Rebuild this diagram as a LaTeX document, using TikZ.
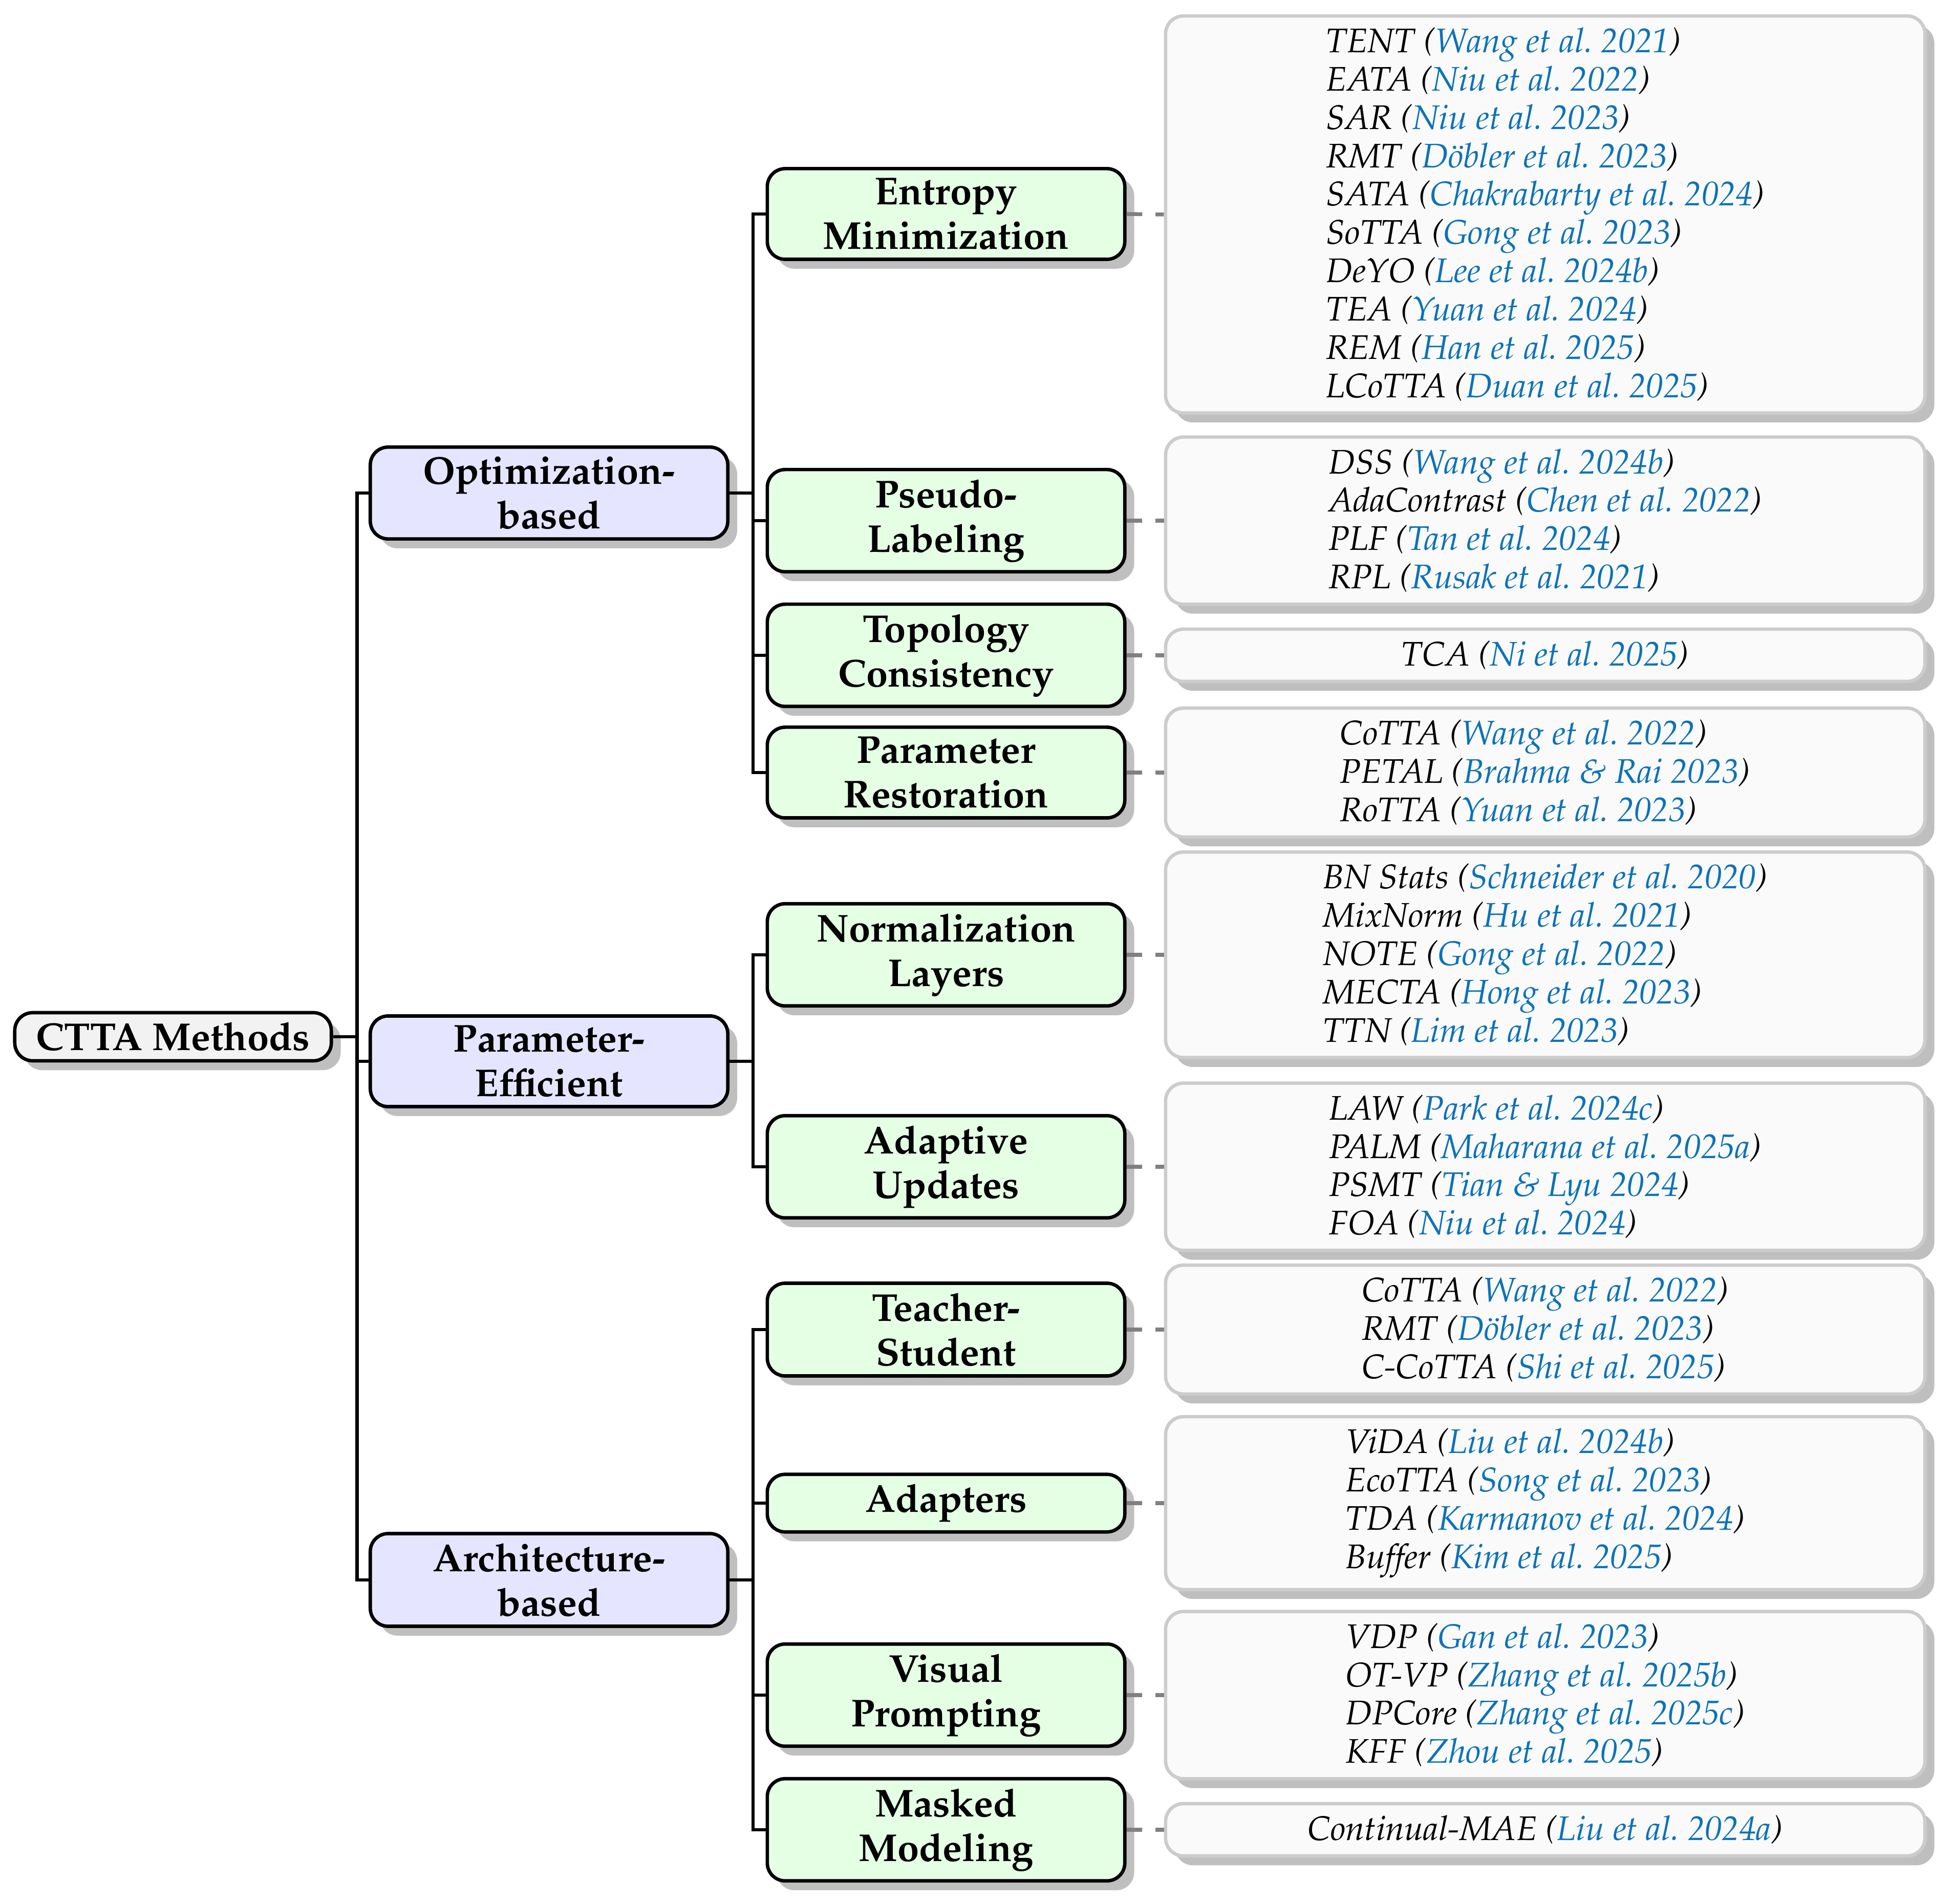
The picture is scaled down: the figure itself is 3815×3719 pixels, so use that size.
\documentclass[tikz,border=0pt]{standalone}
\usepackage[T1]{fontenc}
\renewcommand{\rmdefault}{ppl}
\usetikzlibrary{shadows}
\definecolor{citeblue}{RGB}{12,114,184}
\newcommand{\cc}[1]{\textcolor{citeblue}{#1}}
\begin{document}
\begin{tikzpicture}[x=0.12pt,y=-0.12pt,
  basebox/.style={rounded corners=4.2pt, line width=0.8pt,
    drop shadow={shadow xshift=2.2pt,shadow yshift=-2.2pt}},
  boldfont/.style={font=\fontsize{9.1}{10.45}\selectfont\bfseries},
  rootbox/.style={basebox, boldfont, draw=black, fill=black!5,
    minimum width=74.2pt, inner xsep=0pt, inner ysep=2.3pt},
  catbox/.style={basebox, boldfont, draw=black, fill=blue!10, align=center,
    minimum width=83.8pt, inner xsep=0pt, inner ysep=2.3pt},
  subbox/.style={basebox, boldfont, draw=black, fill=green!10, align=center,
    minimum width=83.8pt, inner xsep=0pt, inner ysep=2.3pt},
  leafbox/.style={basebox, draw=black!20, fill=black!2, align=left,
    font=\fontsize{8}{8.98}\selectfont\itshape,
    minimum width=178pt, inner xsep=0pt, inner ysep=2.8pt},
  conn/.style={line width=0.8pt, black},
  dconn/.style={line width=0.9pt, black!50, dash pattern=on 3.7pt off 3.1pt}
]
\useasboundingbox (0,0) rectangle (3815,3719);

% root
\node[rootbox] (root) at (338,2025) {CTTA Methods};

% level 1
\node[catbox] (opt) at (1072.5,963) {Optimization-\\based};
\node[catbox] (par) at (1072.5,2073) {Parameter-\\Efficient};
\node[catbox] (arc) at (1072.5,3086) {Architecture-\\based};

% level 2
\node[subbox] (ent) at (1848,418) {Entropy\\Minimization};
\node[subbox] (pse) at (1848,1017) {Pseudo-\\Labeling};
\node[subbox] (top) at (1848,1280) {Topology\\Consistency};
\node[subbox] (res) at (1848,1509) {Parameter\\Restoration};
\node[subbox] (nor) at (1848,1865) {Normalization\\Layers};
\node[subbox] (ada) at (1848,2279) {Adaptive\\Updates};
\node[subbox] (tea) at (1848,2597) {Teacher-\\Student};
\node[subbox] (adp) at (1848,2936) {Adapters};
\node[subbox] (vis) at (1848,3311) {Visual\\Prompting};
\node[subbox] (mas) at (1848,3574) {Masked\\Modeling};

% leaves
\node[leafbox] (lent) at (3018.5,419) {TENT (\cc{Wang et al.\ 2021})\\
EATA (\cc{Niu et al.\ 2022})\\
SAR (\cc{Niu et al.\ 2023})\\
RMT (\cc{D\"obler et al.\ 2023})\\
SATA (\cc{Chakrabarty et al.\ 2024})\\
SoTTA (\cc{Gong et al.\ 2023})\\
DeYO (\cc{Lee et al.\ 2024b})\\
TEA (\cc{Yuan et al.\ 2024})\\
REM (\cc{Han et al.\ 2025})\\
LCoTTA (\cc{Duan et al.\ 2025})};
\node[leafbox] (lpse) at (3018.5,1017) {DSS (\cc{Wang et al.\ 2024b})\\
AdaContrast (\cc{Chen et al.\ 2022})\\
PLF (\cc{Tan et al.\ 2024})\\
RPL (\cc{Rusak et al.\ 2021})};
\node[leafbox] (ltop) at (3018.5,1280) {TCA (\cc{Ni et al.\ 2025})};
\node[leafbox] (lres) at (3018.5,1509) {CoTTA (\cc{Wang et al.\ 2022})\\
PETAL (\cc{Brahma \& Rai 2023})\\
RoTTA (\cc{Yuan et al.\ 2023})};
\node[leafbox] (lnor) at (3018.5,1865) {BN Stats (\cc{Schneider et al.\ 2020})\\
MixNorm (\cc{Hu et al.\ 2021})\\
NOTE (\cc{Gong et al.\ 2022})\\
MECTA (\cc{Hong et al.\ 2023})\\
TTN (\cc{Lim et al.\ 2023})};
\node[leafbox] (lada) at (3018.5,2279) {LAW (\cc{Park et al.\ 2024c})\\
PALM (\cc{Maharana et al.\ 2025a})\\
PSMT (\cc{Tian \& Lyu 2024})\\
FOA (\cc{Niu et al.\ 2024})};
\node[leafbox] (ltea) at (3018.5,2597) {CoTTA (\cc{Wang et al.\ 2022})\\
RMT (\cc{D\"obler et al.\ 2023})\\
C-CoTTA (\cc{Shi et al.\ 2025})};
\node[leafbox] (ladp) at (3018.5,2936) {ViDA (\cc{Liu et al.\ 2024b})\\
EcoTTA (\cc{Song et al.\ 2023})\\
TDA (\cc{Karmanov et al.\ 2024})\\
Buffer (\cc{Kim et al.\ 2025})};
\node[leafbox] (lvis) at (3018.5,3311) {VDP (\cc{Gan et al.\ 2023})\\
OT-VP (\cc{Zhang et al.\ 2025b})\\
DPCore (\cc{Zhang et al.\ 2025c})\\
KFF (\cc{Zhou et al.\ 2025})};
\node[leafbox] (lmas) at (3018.5,3574) {Continual-MAE (\cc{Liu et al.\ 2024a})};

% tree connectors
\foreach \c in {opt,par,arc}
  \draw[conn] (root.east) -- ++(47,0) |- (\c.west);
\foreach \c in {ent,pse,top,res}
  \draw[conn] (opt.east) -- ++(46,0) |- (\c.west);
\foreach \c in {nor,ada}
  \draw[conn] (par.east) -- ++(46,0) |- (\c.west);
\foreach \c in {tea,adp,vis,mas}
  \draw[conn] (arc.east) -- ++(46,0) |- (\c.west);

% dashed connectors to leaves
\foreach \a/\b in {ent/lent,pse/lpse,top/ltop,res/lres,nor/lnor,ada/lada,tea/ltea,adp/ladp,vis/lvis,mas/lmas}
  \draw[dconn] (\a.east) -- (\b.west);
\end{tikzpicture}
\end{document}
